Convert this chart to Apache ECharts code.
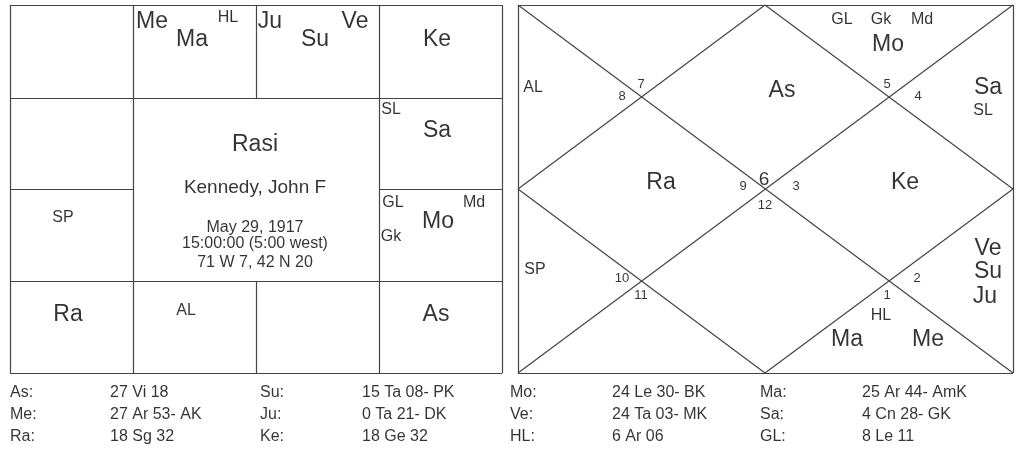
<!DOCTYPE html><html><head><meta charset="utf-8"><script src="https://cdn.jsdelivr.net/npm/echarts@6/dist/echarts.min.js"></script>
<style>html,body{margin:0;background:#fff}#c{width:1024px;height:450px}</style></head><body><div id="c"></div><script>
// Rasi (left) chart placements: [text, x, y, size]
const rasiTexts=[["Me",152,22,23],["Ma",192,40,23],["HL",228,18,16],["Ju",270,22,23],["Su",315,40,23],["Ve",355,22,23],["Ke",437,40,23],
["SL",391,110,16],["Sa",437,131,23],["GL",393,203,16],["Md",474,203,16],["Mo",438,222,23],["Gk",391,237,16],["SP",63,218,16],
["Ra",68,315,23],["AL",186,311,16],["As",436,315,23],["Rasi",255,145,23],["Kennedy, John F",255,188,19],["May 29, 1917",255,228,16],
["15:00:00 (5:00 west)",255,244,16],["71 W 7, 42 N 20",255,263,16]];
// North-Indian (right) chart placements
const diamondTexts=[["AL",533,88,16],["8",622,96,13],["7",641,84,13],["GL",842,20,16],["Gk",881,20,16],["Md",922,20,16],["Mo",888,45,23],
["As",782,91,23],["5",887,84,13],["4",918,96,13],["Sa",988,88,23],["SL",983,111,16],["Ra",661,183,23],["9",743,186,13],["6",764,180,19],
["3",796,186,13],["12",765,205,13],["Ke",905,183,23],["Ve",988,249,23],["Su",988,272,23],["Ju",985,297,23],["SP",535,270,16],
["10",622,278,13],["11",641,295,13],["2",917,278,13],["1",887,295,13],["HL",881,316,16],["Ma",847,340,23],["Me",928,340,23]];
const tableLabels=["As:","Su:","Mo:","Ma:","Me:","Ju:","Ve:","Sa:","Ra:","Ke:","HL:","GL:"];
const tableValues=["27 Vi 18","15 Ta 08- PK","24 Le 30- BK","25 Ar 44- AmK","27 Ar 53- AK","0 Ta 21- DK","24 Ta 03- MK","4 Cn 28- GK","18 Sg 32","18 Ge 32","6 Ar 06","8 Le 11"];
const segs=[
[[10,5],[502,5]],[[502,5],[502,373]],[[502,373],[10,373]],[[10,373],[10,5]],
[[10,98],[502,98]],[[10,281],[502,281]],[[133,5],[133,373]],[[379,5],[379,373]],[[256,5],[256,98]],[[256,281],[256,373]],
[[10,189],[133,189]],[[379,189],[502,189]],
[[518,5],[1013,5]],[[1013,5],[1013,373]],[[1013,373],[518,373]],[[518,373],[518,5]],
[[518,5],[1013,373]],[[1013,5],[518,373]],
[[765,5],[1013,189]],[[1013,189],[765,373]],[[765,373],[518,189]],[[518,189],[765,5]]];
const colX=[[10,110],[260,362],[510,612],[760,862]],rowY=[393,415,437];
const pts=[];
rasiTexts.concat(diamondTexts).forEach(t=>pts.push({value:[t[1],t[2]],name:t[0],label:{fontSize:t[3],align:'center'}}));
tableLabels.forEach((l,i)=>{const r=Math.floor(i/4),c=i%4;
 pts.push({value:[colX[c][0],rowY[r]],name:l,label:{fontSize:16,align:'left'}});
 pts.push({value:[colX[c][1],rowY[r]],name:tableValues[i],label:{fontSize:16,align:'left'}});});
const ch=echarts.init(document.getElementById('c'));
ch.setOption({animation:false,grid:{left:0,right:0,top:0,bottom:0},
xAxis:{type:'value',min:0,max:1024,show:false},yAxis:{type:'value',min:0,max:450,inverse:true,show:false},
series:[{type:'lines',coordinateSystem:'cartesian2d',silent:true,lineStyle:{color:'#444',width:1.2,opacity:1},data:segs.map(s=>({coords:s}))},
{type:'scatter',symbolSize:0,silent:true,data:pts,label:{show:true,position:'inside',formatter:p=>p.name,color:'#000',fontFamily:'Liberation Sans',verticalAlign:'middle'}}]});
</script></body></html>
